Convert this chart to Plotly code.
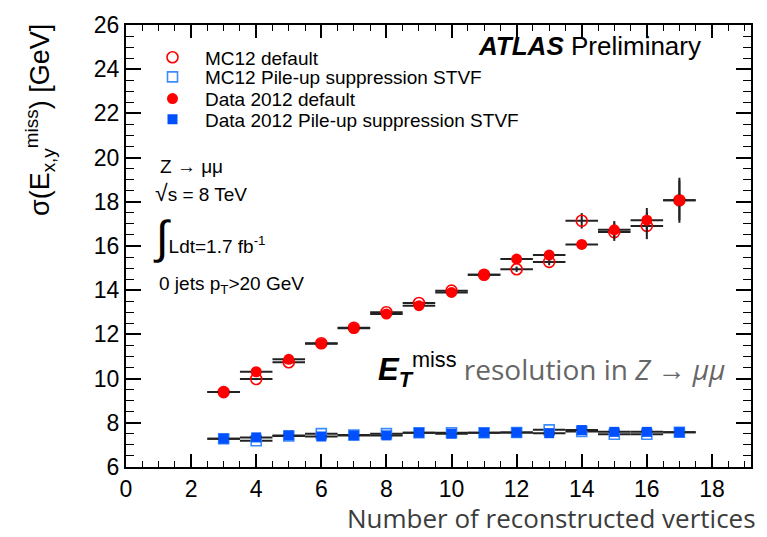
import plotly.graph_objects as go

# ---- data ----
nvtx = [3, 4, 5, 6, 7, 8, 9, 10, 11, 12, 13, 14, 15, 16, 17]
xerr = [0.5] * 15

data_default = [9.39, 10.31, 10.87, 11.58, 12.28, 12.92, 13.30, 13.90, 14.70, 15.41, 15.59, 16.07, 16.73, 17.17, 18.07]
data_default_err = [0.06, 0.06, 0.07, 0.07, 0.08, 0.08, 0.09, 0.10, 0.12, 0.15, 0.18, 0.12, 0.40, 0.55, 1.02]

mc_default = [9.39, 9.98, 10.74, 11.60, 12.30, 13.00, 13.42, 13.98, 14.70, 14.95, 15.28, 17.14, 16.63, 16.91, 18.07]
mc_default_err = [0.05, 0.05, 0.05, 0.06, 0.06, 0.07, 0.07, 0.08, 0.10, 0.12, 0.15, 0.35, 0.40, 0.60, 0.90]

data_stvf = [7.28, 7.34, 7.43, 7.38, 7.43, 7.43, 7.55, 7.51, 7.55, 7.56, 7.53, 7.67, 7.59, 7.59, 7.57]
data_stvf_err = [0.03] * 15

mc_stvf = [7.28, 7.19, 7.40, 7.51, 7.45, 7.51, 7.55, 7.55, 7.55, 7.56, 7.68, 7.61, 7.48, 7.48, 7.57]
mc_stvf_err = [0.03] * 15

x_ticks = [0, 2, 4, 6, 8, 10, 12, 14, 16, 18]
y_ticks = [6, 8, 10, 12, 14, 16, 18, 20, 22, 24, 26]

RED = "#ff0000"
BLUE = "#0050ff"
LBLUE = "#3a8cff"
FONT = "Liberation Sans"

fig = go.Figure()

def ex():
    return dict(type="data", array=xerr, color="#222222", thickness=2, width=0)

def ey(arr):
    return dict(type="data", array=arr, color="#222222", thickness=2, width=0)

fig.add_trace(go.Scatter(
    x=nvtx, y=mc_default, mode="markers", name="MC12 default", legend="legend",
    error_x=ex(), error_y=ey(mc_default_err),
    marker=dict(symbol="circle-open", size=11, color=RED, line=dict(width=1.6, color=RED))))
fig.add_trace(go.Scatter(
    x=nvtx, y=mc_stvf, mode="markers", name="MC12 Pile-up suppression STVF", legend="legend2",
    error_x=ex(), error_y=ey(mc_stvf_err),
    marker=dict(symbol="square-open", size=10, color=LBLUE, line=dict(width=1.6, color=LBLUE))))
fig.add_trace(go.Scatter(
    x=nvtx, y=data_default, mode="markers", name="Data 2012 default", legend="legend3",
    error_x=ex(), error_y=ey(data_default_err),
    marker=dict(symbol="circle", size=11, color=RED)))
fig.add_trace(go.Scatter(
    x=nvtx, y=data_stvf, mode="markers", name="Data 2012 Pile-up suppression STVF", legend="legend4",
    error_x=ex(), error_y=ey(data_stvf_err),
    marker=dict(symbol="square", size=10, color=BLUE)))

axis_common = dict(
    showline=True, linecolor="black", linewidth=2, mirror="ticks",
    ticks="inside", tickcolor="black", tickwidth=1.5,
    showgrid=False, zeroline=False,
    tickfont=dict(family=FONT, size=23, color="black"),
)

fig.update_xaxes(range=[0, 19.2], tickvals=x_ticks, ticklen=13,
                 minor=dict(dtick=0.5, ticklen=6, tickcolor="black", ticks="inside", tickwidth=1.2),
                 **axis_common)
fig.update_yaxes(range=[6, 26], tickvals=y_ticks, ticklen=15,
                 minor=dict(dtick=0.5, ticklen=8, tickcolor="black", ticks="inside", tickwidth=1.2),
                 **axis_common)

TXT = 19
annotations = [
    dict(text="σ(E<sub>x,y</sub><sup>miss</sup>) [GeV]", textangle=-90,
         xref="paper", yref="paper", x=0, y=1, xshift=-86, yshift=3,
         xanchor="center", yanchor="top", showarrow=False,
         font=dict(family=FONT, size=27, color="black")),
    dict(text="Number of reconstructed vertices",
         xref="paper", yref="paper", x=1, y=0, xshift=6, yshift=-70,
         xanchor="right", yanchor="bottom", showarrow=False, borderpad=0,
         font=dict(family="Open Sans", size=26, color="#3c3c3c")),
    dict(text="<b><i>ATLAS</i></b> Preliminary",
         xref="paper", yref="paper", x=1, y=1, xshift=-48, yshift=-21,
         xanchor="right", yanchor="middle", showarrow=False,
         font=dict(family=FONT, size=26, color="black")),
    dict(text="Z → μμ", xref="paper", yref="paper", x=0, y=1, xshift=32, yshift=-141,
         xanchor="left", yanchor="middle", showarrow=False,
         font=dict(family=FONT, size=TXT, color="black")),
    dict(text="<span style='font-size:23px'>√</span>s = 8 TeV", xref="paper", yref="paper", x=0, y=1,
         xshift=27, yshift=-168,
         xanchor="left", yanchor="middle", showarrow=False,
         font=dict(family=FONT, size=TXT, color="black")),
    dict(text="<span style='font-size:46px'>∫</span>Ldt=1.7 fb<sup>-1</sup>",
         xref="paper", yref="paper", x=0, y=1, xshift=25, yshift=-212,
         xanchor="left", yanchor="middle", showarrow=False,
         font=dict(family=FONT, size=TXT, color="black")),
    dict(text="0 jets p<sub>T</sub>>20 GeV", xref="paper", yref="paper", x=0, y=1, xshift=31, yshift=-260,
         xanchor="left", yanchor="middle", showarrow=False,
         font=dict(family=FONT, size=TXT, color="black")),
    dict(text="<b><i>E<sub>T</sub></i></b><span style='font-size:31px'><sup>miss</sup></span>"
              "<span style='color:#666666;font-family:Open Sans;font-size:28px'> resolution in <i>Z</i> → <i>μμ</i></span>",
         xref="paper", yref="paper", x=1, y=1, xshift=-24, yshift=-344,
         xanchor="right", yanchor="middle", showarrow=False,
         font=dict(family=FONT, size=31, color="black")),
]

PLOT_TOP, PLOT_H = 17, 450
def leg(row_y):
    return dict(x=(140 - 126) / 625, y=1 - (row_y - 7 - PLOT_TOP) / PLOT_H,
                xref="paper", yref="paper", xanchor="left", yanchor="middle",
                bgcolor="rgba(0,0,0,0)", font=dict(family=FONT, size=19, color="black"),
                itemwidth=55, borderwidth=0)

fig.update_layout(
    width=767, height=537,
    margin=dict(l=126, r=16, t=17, b=70),
    paper_bgcolor="white", plot_bgcolor="white",
    showlegend=True,
    legend=leg(57), legend2=leg(77), legend3=leg(99), legend4=leg(120),
    annotations=annotations,
)

fig.write_html("out.html")
